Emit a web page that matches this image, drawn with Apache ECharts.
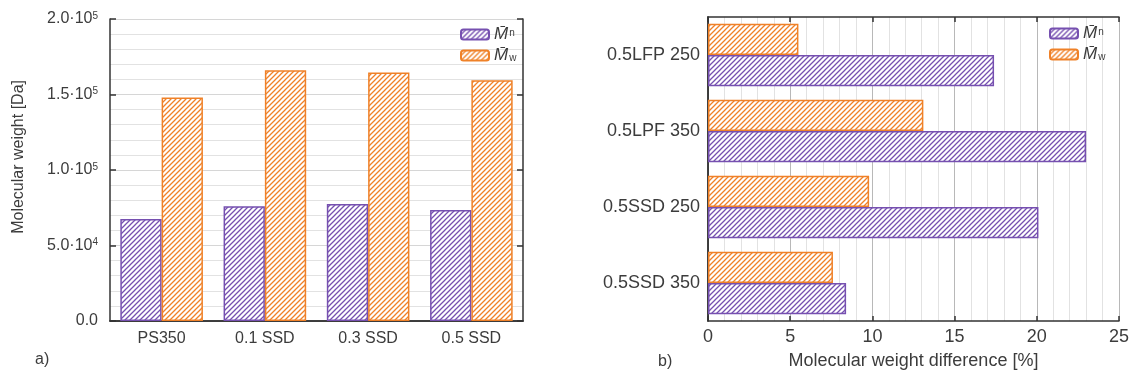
<!DOCTYPE html>
<html><head><meta charset="utf-8">
<script src="https://cdn.jsdelivr.net/npm/echarts@6/dist/echarts.min.js"></script>
<style>html,body{margin:0;padding:0;background:#fff}#c{width:1133px;height:378px}</style>
</head><body><div id="c"></div>
<script>
// ---- data ----
const leftCategories = ['PS350', '0.1 SSD', '0.3 SSD', '0.5 SSD'];
const leftMn = [67500, 76000, 77500, 73500];
const leftMw = [148000, 166000, 164500, 159500];
const leftTickLabels = ['0.0', '5.0·10{s|4}', '1.0·10{s|5}', '1.5·10{s|5}', '2.0·10{s|5}'];
const rightCategories = ['0.5LFP 250', '0.5LPF 350', '0.5SSD 250', '0.5SSD 350'];
const rightMn = [17.4, 23.0, 20.1, 8.4];
const rightMw = [5.5, 13.1, 9.8, 7.6];

const PURPLE = '#7650B0';
const ORANGE = '#EF8128';
const AXIS = '#333';
const TXT = '#3c3c3c';
const FONT = 'Liberation Sans';

function hatch(color) {
  const s = 5;
  const c = document.createElement('canvas');
  c.width = s; c.height = s;
  const ctx = c.getContext('2d');
  ctx.fillStyle = '#fff';
  ctx.fillRect(0, 0, s, s);
  ctx.strokeStyle = color;
  ctx.lineWidth = 1.3;
  ctx.beginPath();
  ctx.moveTo(-1, s + 1); ctx.lineTo(s + 1, -1);
  ctx.moveTo(-s / 2 - 1, s / 2 + 1); ctx.lineTo(s / 2 + 1, -s / 2 - 1);
  ctx.moveTo(s / 2 - 1, s * 1.5 + 1); ctx.lineTo(s * 1.5 + 1, s / 2 - 1);
  ctx.stroke();
  return c;
}
const purpleFill = { image: hatch(PURPLE), repeat: 'repeat' };
const orangeFill = { image: hatch(ORANGE), repeat: 'repeat' };

const legendRich = {
  m: { fontFamily: FONT, fontStyle: 'italic', fontSize: 17, color: TXT, lineHeight: 15 },
  n: { fontFamily: FONT, fontSize: 10, color: TXT, verticalAlign: 'top', lineHeight: 15, padding: [1, 0, 0, 1] },
  w: { fontFamily: FONT, fontSize: 10, color: TXT, verticalAlign: 'bottom', lineHeight: 15, padding: [0, 0, 0, 1] }
};
function legendFmt(name) {
  return name === 'Mn' ? '{m|M\u0304}{n|n}' : '{m|M\u0304}{w|w}';
}
function legend(left, top) {
  return {
    data: ['Mn', 'Mw'], orient: 'vertical', left: left, top: top,
    itemWidth: 28, itemHeight: 10, itemGap: 4, padding: 0,
    formatter: legendFmt,
    textStyle: { rich: legendRich, lineHeight: 15 }
  };
}

const chart = echarts.init(document.getElementById('c'), null, { renderer: 'canvas' });
const axLine = { show: true, lineStyle: { color: AXIS, width: 1.5 } };

chart.setOption({
  animation: false,
  backgroundColor: '#fff',
  textStyle: { fontFamily: FONT },
  legend: [legend(460, 26), legend(1049, 25)],
  grid: [
    { left: 110, top: 19, width: 413, height: 302, containLabel: false },
    { left: 708, top: 17, width: 411, height: 304, containLabel: false }
  ],
  xAxis: [
    { type: 'category', gridIndex: 0, data: leftCategories, position: 'bottom',
      axisLine: axLine, axisTick: { show: false },
      axisLabel: { fontSize: 16, color: TXT, margin: 10, fontFamily: FONT } },
    { type: 'category', gridIndex: 0, data: leftCategories, position: 'top',
      axisLine: axLine, axisTick: { show: false }, axisLabel: { show: false } },
    { type: 'value', gridIndex: 1, min: 0, max: 25, interval: 5, position: 'bottom',
      axisLine: axLine,
      axisTick: { show: true, inside: true, length: 5, lineStyle: { color: AXIS, width: 1.5 } },
      axisLabel: { fontSize: 18, color: TXT, margin: 7, fontFamily: FONT },
      splitLine: { show: true, lineStyle: { color: '#b8b8b8', width: 1 } },
      minorTick: { show: false, splitNumber: 5 },
      minorSplitLine: { show: true, lineStyle: { color: '#e2e2e2', width: 1 } },
      name: 'Molecular weight difference [%]', nameLocation: 'middle', nameGap: 31,
      nameTextStyle: { fontSize: 18, color: TXT, fontFamily: FONT } },
    { type: 'value', gridIndex: 1, min: 0, max: 25, interval: 5, position: 'top',
      axisLine: axLine,
      axisTick: { show: true, inside: true, length: 5, lineStyle: { color: AXIS, width: 1.5 } },
      axisLabel: { show: false }, splitLine: { show: false } }
  ],
  yAxis: [
    { type: 'value', gridIndex: 0, min: 0, max: 200000, interval: 50000, position: 'left',
      axisLine: axLine,
      axisTick: { show: true, inside: true, length: 6, lineStyle: { color: AXIS, width: 1.5 } },
      axisLabel: { margin: 12, color: TXT, fontSize: 16, fontFamily: FONT,
        formatter: v => leftTickLabels[Math.round(v / 50000)],
        rich: { s: { fontSize: 10, verticalAlign: 'top', color: TXT, fontFamily: FONT, padding: [0, 0, 6, 0] } } },
      splitLine: { show: true, lineStyle: { color: '#d6d6d6', width: 1 } },
      minorTick: { show: false, splitNumber: 5 },
      minorSplitLine: { show: true, lineStyle: { color: '#e2e2e2', width: 1 } } },
    { type: 'value', gridIndex: 0, min: 0, max: 200000, interval: 50000, position: 'right',
      axisLine: axLine,
      axisTick: { show: true, inside: true, length: 6, lineStyle: { color: AXIS, width: 1.5 } },
      axisLabel: { show: false }, splitLine: { show: false } },
    { type: 'category', gridIndex: 1, data: rightCategories, inverse: true, position: 'left',
      axisLine: axLine, axisTick: { show: false },
      axisLabel: { fontSize: 18, color: TXT, margin: 8, fontFamily: FONT } },
    { type: 'category', gridIndex: 1, data: rightCategories, inverse: true, position: 'right',
      axisLine: axLine, axisTick: { show: false }, axisLabel: { show: false } }
  ],
  series: [
    { name: 'Mn', type: 'bar', xAxisIndex: 0, yAxisIndex: 0, data: leftMn,
      barGap: '0%', barCategoryGap: '20%',
      itemStyle: { color: purpleFill, borderColor: PURPLE, borderWidth: 1.5 } },
    { name: 'Mw', type: 'bar', xAxisIndex: 0, yAxisIndex: 0, data: leftMw,
      barGap: '0%', barCategoryGap: '20%',
      itemStyle: { color: orangeFill, borderColor: ORANGE, borderWidth: 1.5 } },
    { name: 'Mw', type: 'bar', xAxisIndex: 2, yAxisIndex: 2, data: rightMw,
      barGap: '0%', barCategoryGap: '18%',
      itemStyle: { color: orangeFill, borderColor: ORANGE, borderWidth: 1.5 } },
    { name: 'Mn', type: 'bar', xAxisIndex: 2, yAxisIndex: 2, data: rightMn,
      barGap: '0%', barCategoryGap: '18%',
      itemStyle: { color: purpleFill, borderColor: PURPLE, borderWidth: 1.5 } }
  ],
  graphic: [
    { type: 'text', left: 11, top: 80, rotation: Math.PI / 2,
      style: { text: 'Molecular weight [Da]', fontSize: 16, fill: TXT, fontFamily: FONT } },
    { type: 'text', left: 35, top: 352, style: { text: 'a)', fontSize: 16, fill: TXT, fontFamily: FONT } },
    { type: 'text', left: 658, top: 354, style: { text: 'b)', fontSize: 16, fill: TXT, fontFamily: FONT } }
  ]
});
</script></body></html>
